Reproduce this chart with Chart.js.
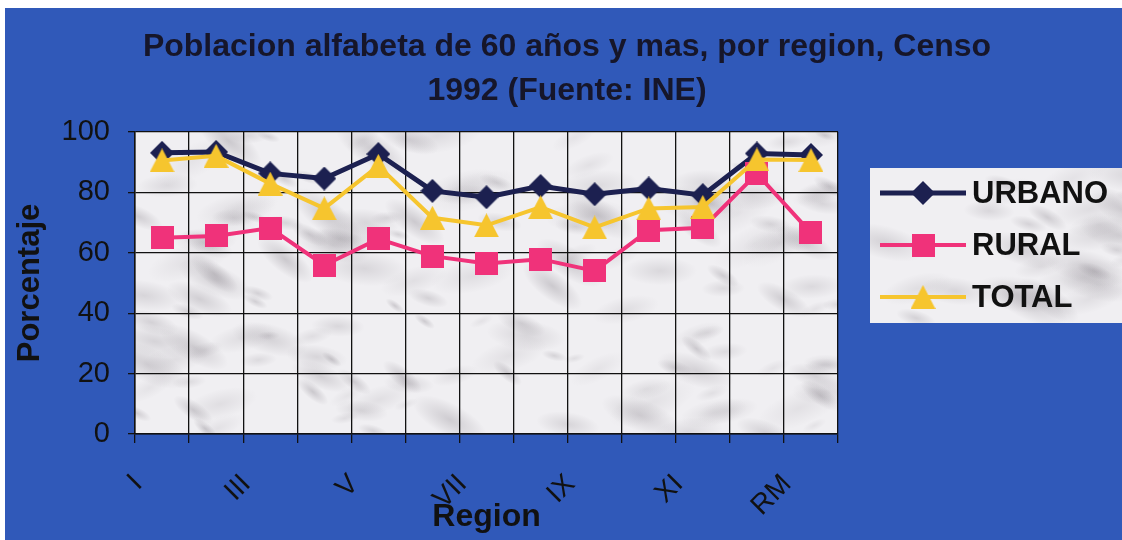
<!DOCTYPE html>
<html>
<head>
<meta charset="utf-8">
<script src="https://cdn.jsdelivr.net/npm/chart.js@4.4.1/dist/chart.umd.min.js"></script>
<style>
  html, body { margin: 0; padding: 0; background: #ffffff; }
  #c { display: block; }
</style>
</head>
<body>
<canvas id="c" width="1122" height="540"></canvas>
<script>
// Regions of Chile (census 1992) and literacy rate (%) of people aged 60+
const regions = ['I', 'II', 'III', 'IV', 'V', 'VI', 'VII', 'VIII', 'IX', 'X', 'XI', 'XII', 'RM'];
const urbano  = [93.1, 93.4, 86.3, 84.6, 92.7, 80.5, 78.4, 82.1, 79.4, 81.3, 79.1, 92.9, 92.4];
const rural   = [65.0, 65.6, 68.2, 55.9, 64.6, 58.9, 56.5, 57.9, 54.0, 67.5, 68.3, 86.2, 66.6];
const total   = [90.6, 92.1, 82.9, 74.7, 88.8, 71.6, 69.1, 75.1, 68.4, 74.7, 75.2, 90.9, 90.7];
const yTicks  = [0, 20, 40, 60, 80, 100];
const seriesNames = ['URBANO', 'RURAL', 'TOTAL'];

const FONT = '"Liberation Sans", Arial, Helvetica, sans-serif';
const INK = '#111111';
const BLUE = '#3059b9';
const NAVY = '#1c2050';
const PINK = '#f0327a';
const YELLOW = '#f6c52e';

// ---- marker sprites (centred on their bounding box) ----
function sprite(w, h, color, path) {
  const c = document.createElement('canvas');
  c.width = w; c.height = h;
  const g = c.getContext('2d');
  g.fillStyle = color;
  g.beginPath();
  path(g, w, h);
  g.closePath();
  g.fill();
  return c;
}
const diamond = sprite(24, 24, NAVY, (g, w, h) => {
  g.moveTo(w / 2, 0); g.lineTo(w, h / 2); g.lineTo(w / 2, h); g.lineTo(0, h / 2);
});
const square = sprite(23, 23, PINK, (g, w, h) => { g.rect(0, 0, w, h); });
const triangle = sprite(25, 24, YELLOW, (g, w, h) => {
  g.moveTo(w / 2, 0); g.lineTo(w, h); g.lineTo(0, h);
});

// ---- soft grey marble fill ----
function frac(v) { return v - Math.floor(v); }
function marble(ctx, x, y, w, h, k) {
  ctx.save();
  ctx.beginPath(); ctx.rect(x, y, w, h); ctx.clip();
  ctx.fillStyle = '#f0eff2';
  ctx.fillRect(x, y, w, h);
  const n = Math.round(w * h / 1400);
  for (let i = 1; i <= n; i++) {
    const fx = frac(Math.sin(i * 12.9898 + k) * 43758.5453);
    const fy = frac(Math.sin(i * 78.233 + k * 1.7) * 24634.6345);
    const fr = frac(Math.sin(i * 37.719 + k * 2.3) * 12345.678);
    const fa = frac(Math.sin(i * 4.1414 + k * 0.9) * 9871.123);
    const cx = x + fx * w, cy = y + fy * h, r = 6 + fr * 20;
    ctx.save();
    ctx.translate(cx, cy);
    ctx.rotate(-0.5 + fa * 1.2);
    ctx.scale(1.8, 0.7);
    const g = ctx.createRadialGradient(0, 0, 0, 0, 0, r);
    const a = 0.08 + 0.2 * fa;
    g.addColorStop(0, 'rgba(105,98,108,' + a.toFixed(3) + ')');
    g.addColorStop(1, 'rgba(105,98,108,0)');
    ctx.fillStyle = g;
    ctx.beginPath(); ctx.arc(0, 0, r, 0, Math.PI * 2); ctx.fill();
    ctx.restore();
  }
  ctx.restore();
}

// ---- page background and plot-area fill ----
const backdrop = {
  id: 'backdrop',
  beforeDraw(chart) {
    const { ctx, width, height, chartArea: a } = chart;
    ctx.save();
    ctx.fillStyle = '#ffffff';
    ctx.fillRect(0, 0, width, height);
    ctx.fillStyle = BLUE;
    ctx.fillRect(5, 8, width - 5, height - 8);
    ctx.restore();
    marble(ctx, a.left, a.top, a.right - a.left, a.bottom - a.top, 3.1);
  }
};

// ---- legend box placed to the right of the plot ----
const sideLegend = {
  id: 'sideLegend',
  beforeInit(chart) {
    const box = {
      position: 'right',
      weight: 1000,
      fullSize: false,
      options: { stack: undefined, stackWeight: 1 },
      width: 0, height: 0, left: 0, top: 0, right: 0, bottom: 0,
      isHorizontal() { return false; },
      update(maxWidth, maxHeight) { this.width = 284; this.height = maxHeight; },
      draw() {
        const ctx = chart.ctx;
        const bx = 870, by = 168, bw = 262, bh = 155;
        marble(ctx, bx, by, bw, bh, 7.7);
        ctx.save();
        ctx.font = 'bold 31px ' + FONT;
        ctx.textBaseline = 'middle';
        ctx.textAlign = 'left';
        chart.data.datasets.forEach((ds, i) => {
          const y = 193 + i * 52;
          ctx.strokeStyle = ds.borderColor;
          ctx.lineWidth = ds.borderWidth;
          ctx.beginPath(); ctx.moveTo(880, y); ctx.lineTo(966, y); ctx.stroke();
          const img = ds.pointStyle;
          ctx.drawImage(img, 923 - img.width / 2, y - img.height / 2);
          ctx.fillStyle = INK;
          ctx.fillText(ds.label, 972, y + 1);
        });
        ctx.restore();
      }
    };
    Chart.layouts.addBox(chart, box);
  }
};

const datasets = [
  { label: seriesNames[0], data: urbano, borderColor: NAVY, backgroundColor: NAVY, borderWidth: 5, pointStyle: diamond, order: 2 },
  { label: seriesNames[1], data: rural,  borderColor: PINK, backgroundColor: PINK, borderWidth: 4, pointStyle: square, order: 1 },
  { label: seriesNames[2], data: total,  borderColor: YELLOW, backgroundColor: YELLOW, borderWidth: 4, pointStyle: triangle, order: 0 }
].map(d => Object.assign({ tension: 0, pointRadius: 12, pointHoverRadius: 12, fill: false }, d));

new Chart(document.getElementById('c'), {
  type: 'line',
  data: { labels: regions, datasets },
  plugins: [backdrop, sideLegend],
  options: {
    responsive: false,
    devicePixelRatio: 1,
    animation: false,
    layout: { padding: { left: 12, right: 0, top: 0, bottom: 0 } },
    plugins: {
      legend: { display: false },
      tooltip: { enabled: false },
      title: {
        display: true,
        text: ['Poblacion alfabeta de 60 años y mas, por region, Censo', '1992 (Fuente: INE)'],
        color: '#16162a',
        font: { family: FONT, size: 32, weight: 'bold', lineHeight: 1.375 },
        padding: { top: 25, bottom: 19 }
      }
    },
    scales: {
      x: {
        offset: true,
        grid: { offset: true, color: INK, lineWidth: 1.3, tickLength: 9 },
        border: { color: INK, width: 1.5 },
        ticks: {
          autoSkip: false,
          minRotation: 45,
          maxRotation: 45,
          labelOffset: -24,
          padding: 25,
          color: INK,
          font: { family: FONT, size: 28 },
          callback: (v, i) => (i % 2 === 0 ? regions[i] : '')
        },
        title: {
          display: true,
          text: 'Region',
          color: INK,
          font: { family: FONT, size: 32, weight: 'bold' },
          padding: { top: 0, bottom: 4 }
        },
        afterFit(s) { s.height = 106; }
      },
      y: {
        min: 0,
        max: 100,
        afterBuildTicks(s) { s.ticks = yTicks.map(v => ({ value: v })); },
        grid: { color: INK, lineWidth: 1.3, tickLength: 7 },
        border: { color: INK, width: 1.5 },
        ticks: { color: INK, padding: 18, font: { family: FONT, size: 29 } },
        title: {
          display: true,
          text: 'Porcentaje',
          color: INK,
          font: { family: FONT, size: 31, weight: 'bold' },
          padding: { top: 0, bottom: 0 }
        },
        afterFit(s) { s.width = 123; }
      }
    }
  }
});
</script>
</body>
</html>
